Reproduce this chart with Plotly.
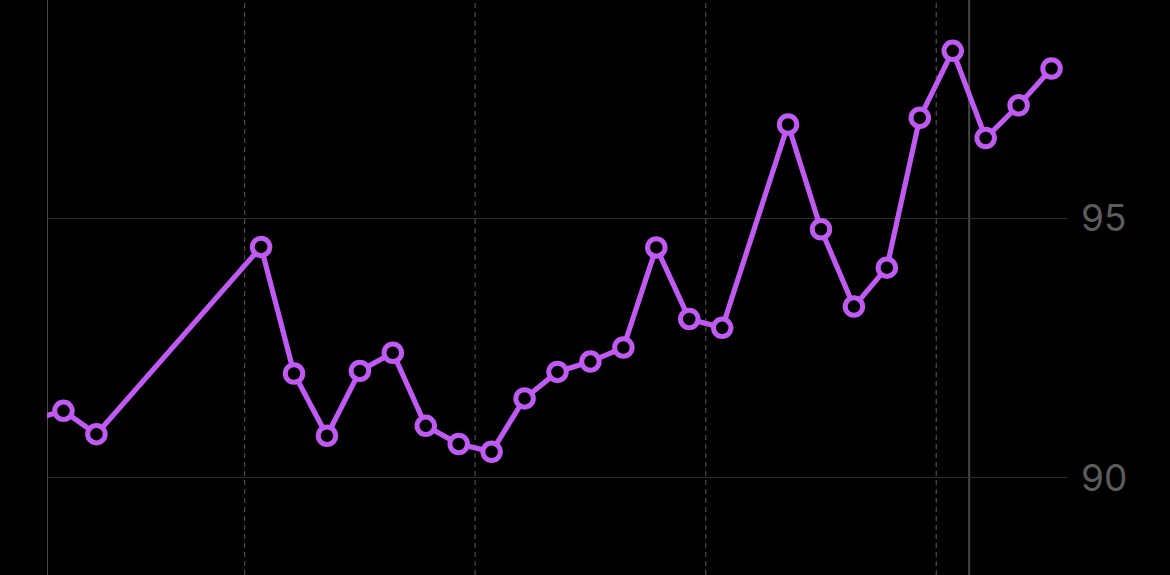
import plotly.graph_objects as go

# Day index (0 = first visible day); -1 lies just off the left edge
days = [-1, 0, 1, 6, 7, 8, 9, 10, 11, 12, 13, 14, 15, 16, 17, 18, 19, 20,
        22, 23, 24, 25, 26, 27, 28, 29, 30]
values = [91.11, 91.29, 90.84, 94.45, 92.01, 90.81, 92.06, 92.41, 91.00, 90.65,
          90.50, 91.53, 92.04, 92.24, 92.51, 94.44, 93.06, 92.89,
          96.81, 94.79, 93.30, 94.05, 96.94, 98.23, 96.55, 97.18, 97.89]

week_lines = [5.5, 12.5, 19.5, 26.5]
month_lines = [-0.5, 27.5]
y_ticks = [90, 95]

PURPLE = "#BF5AF2"

fig = go.Figure()
fig.add_trace(go.Scatter(
    x=days, y=values, mode="lines+markers",
    line=dict(color=PURPLE, width=5.2),
    marker=dict(symbol="circle", size=17.5, color="#000000",
                line=dict(color=PURPLE, width=5)),
    cliponaxis=True, hoverinfo="skip",
))

shapes = []
for xv in week_lines:
    shapes.append(dict(type="line", xref="x", yref="paper", x0=xv, x1=xv, y0=0, y1=1,
                       line=dict(color="#474747", width=1.3, dash="5px,4px"), layer="below"))
for xv in month_lines:
    shapes.append(dict(type="line", xref="x", yref="paper", x0=xv, x1=xv, y0=0, y1=1,
                       line=dict(color="#474747", width=2), layer="below"))

fig.update_layout(
    width=1170, height=575,
    margin=dict(l=47, r=102, t=0, b=0),
    paper_bgcolor="#000000", plot_bgcolor="#000000",
    showlegend=False,
    shapes=shapes,
    xaxis=dict(range=[-0.5, 30.5], showgrid=False, zeroline=False,
               showticklabels=False, showline=False, fixedrange=True),
    yaxis=dict(range=[88.125, 99.21], side="right", tickvals=y_ticks,
               showgrid=True, gridcolor="#2e2e2e", gridwidth=1.3,
               zeroline=False, showline=False,
               tickfont=dict(family="Inter, Roboto, sans-serif", size=37, color="#5c5c5c"),
               ticklabelstandoff=12, fixedrange=True),
)

fig.write_html(
    "out.html",
    config={"displayModeBar": False},
    post_script="document.body.style.margin='0';document.body.style.background='#000';document.body.style.overflow='hidden';",
)
